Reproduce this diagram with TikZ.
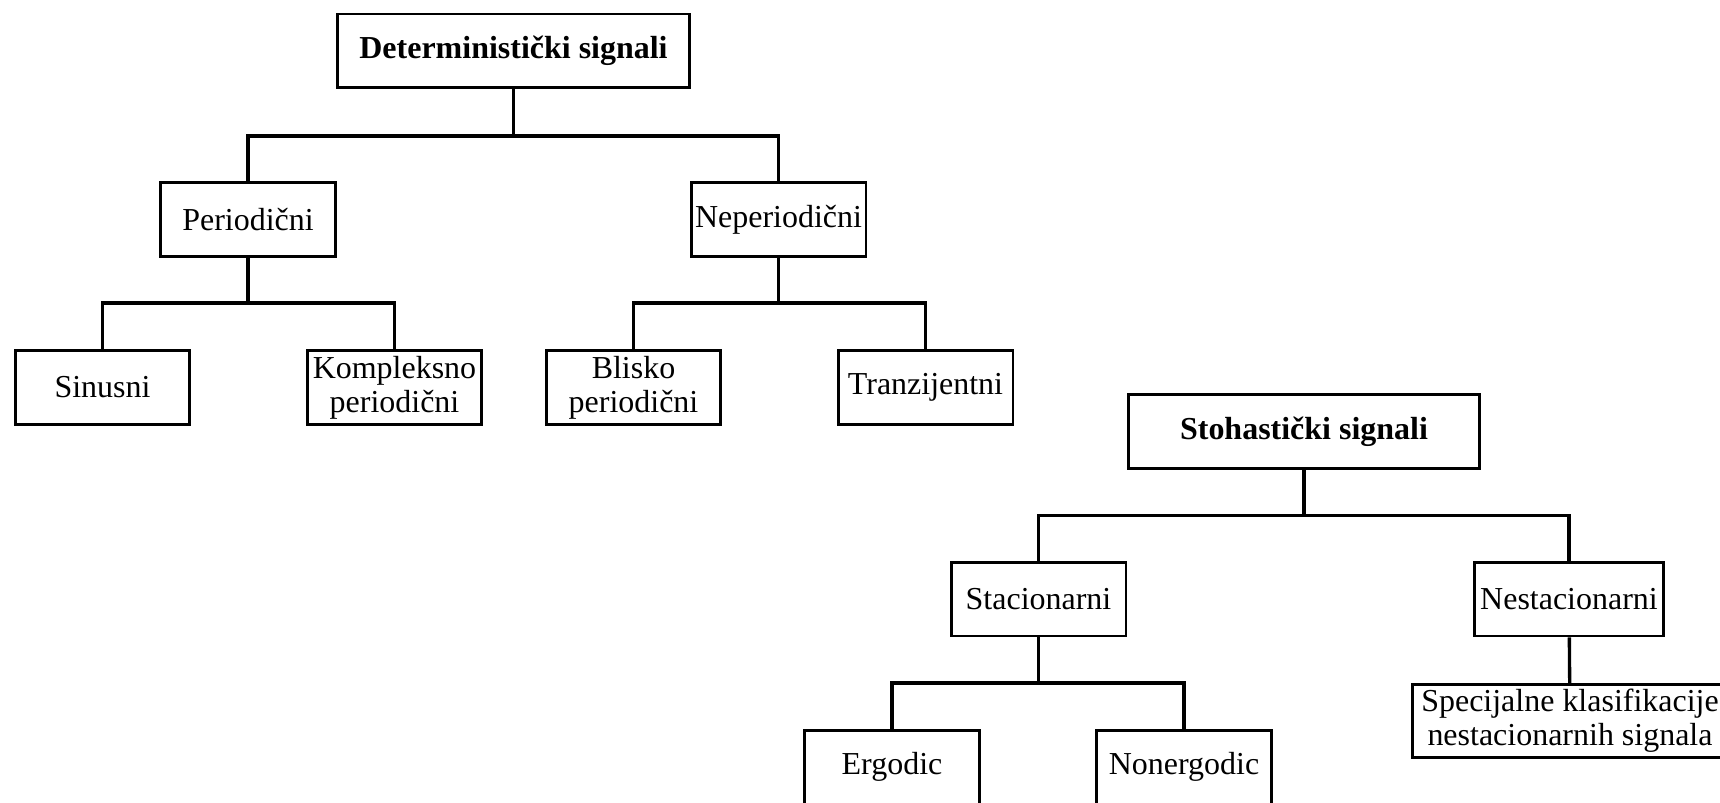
\documentclass[tikz,border=0pt]{standalone}
\usepackage{fontspec}
\setmainfont{Liberation Serif}
\begin{document}
\begin{tikzpicture}[x=0.02cm, y=-0.02cm,
        box/.style={draw, line width=1.7pt, align=center, inner sep=0pt,
            minimum width=3.5cm, minimum height=1.48cm,
            font=\fontsize{18.2pt}{19.5pt}\selectfont},
        topbox/.style={box, minimum width=7.04cm, font=\fontsize{18.2pt}{19.5pt}\selectfont\bfseries},
        link/.style={draw, line width=1.9pt, line join=miter}]
            \useasboundingbox (0,0) rectangle (1720,803);
            % deterministicki
            \node[topbox] (det) at (513.5,51) {Deterministički signali};
            \node[box] (per) at (248,219.5) {Periodični};
            \node[box] (neper) at (778.5,219.5) {Neperiodični};
            \node[box] (sin) at (102.5,387.5) {Sinusni};
            \node[box] (kom) at (394.5,387.5) {Kompleksno\\periodični};
            \node[box] (bli) at (633.5,387.5) {Blisko\\periodični};
            \node[box] (tra) at (925.5,387.5) {Tranzijentni};
            \coordinate (jdet) at (513.5,136);
            \coordinate (jper) at (248,303);
            \coordinate (jneper) at (778.5,303);
            \draw[link] (det) -- (jdet);
            \draw[link] (per.north) |- (jdet) -| (neper.north);
            \draw[link] (per) -- (jper);
            \draw[link] (sin.north) |- (jper) -| (kom.north);
            \draw[link] (neper) -- (jneper);
            \draw[link] (bli.north) |- (jneper) -| (tra.north);
            % stohasticki
            \node[topbox] (sto) at (1304,431.5) {Stohastički signali};
            \node[box] (sta) at (1038.5,599) {Stacionarni};
            \node[box, minimum width=3.78cm] (nesta) at (1569,599) {Nestacionarni};
            \node[box] (erg) at (892,767) {Ergodic};
            \node[box] (nonerg) at (1184,767) {Nonergodic};
            \node[box, minimum width=6.3cm, minimum height=1.46cm] (spec) at (1570,721) {Specijalne klasifikacije\\nestacionarnih signala};
            \coordinate (jsto) at (1304,515.5);
            \coordinate (jsta) at (1038.5,683);
            \draw[link] (sto) -- (jsto);
            \draw[link] (sta.north) |- (jsto) -| (nesta.north);
            \draw[link] (sta) -- (jsta);
            \draw[link] (erg.north) |- (jsta) -| (nonerg.north);
            \draw[link] (nesta) -- (spec);
        \end{tikzpicture}
\end{document}
